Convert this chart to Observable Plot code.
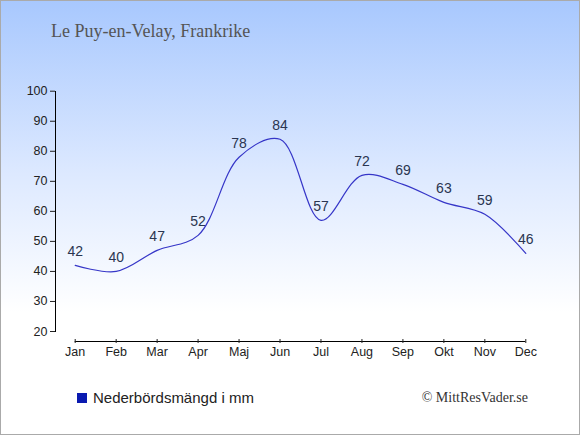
<!DOCTYPE html>
<html>
<head>
<meta charset="utf-8">
<script src="https://cdn.jsdelivr.net/npm/d3@7"></script>
<script src="https://cdn.jsdelivr.net/npm/@observablehq/plot@0.6"></script>
<style>
  html, body { margin: 0; padding: 0; }
  #wrap {
    position: relative; width: 580px; height: 435px; box-sizing: border-box;
    border: 1px solid #aaaaaa;
    background: linear-gradient(to bottom, #a8c8fe 0%, #dde9ff 40%, #ffffff 72%, #ffffff 100%);
    overflow: hidden;
  }
  #chart { position: absolute; left: -1px; top: -1px; width: 580px; height: 435px; }
  #chart svg { max-width: none !important; width: 580px; height: 435px; }
  #title {
    position: absolute; left: 50px; top: 20px;
    font-family: "Liberation Serif", serif; font-size: 18px; color: #555;
  }
  #legend {
    position: absolute; left: 76px; top: 388px;
    font-family: "Liberation Sans", Arial, sans-serif; font-size: 15px; color: #222;
    display: flex; align-items: center;
  }
  #legend .sw { width: 10px; height: 10px; background: #0a1ab0; margin-right: 6px; }
  #credit {
    position: absolute; right: 51px; top: 389px;
    font-family: "Liberation Serif", serif; font-size: 14px; color: #333;
  }
</style>
</head>
<body>
<div id="wrap">
  <div id="chart"></div>
  <div id="title">Le Puy-en-Velay, Frankrike</div>
  <div id="legend"><span class="sw"></span><span>Nederbördsmängd i mm</span></div>
  <div id="credit">© MittResVader.se</div>
</div>
<script>
const months = ["Jan","Feb","Mar","Apr","Maj","Jun","Jul","Aug","Sep","Okt","Nov","Dec"];
const precipitation = [42,40,47,52,78,84,57,72,69,63,59,46];
const yTicks = [20,30,40,50,60,70,80,90,100];

const data = months.map((m, i) => ({index: i, month: m, value: precipitation[i]}));
const monthIndex = months.map((m, i) => i);
const axisLine = [{y: 20, from: 0, to: months.length - 1}];

const chart = Plot.plot({
  width: 580, height: 435,
  marginLeft: 55, marginTop: 91, marginBottom: 104, marginRight: 54,
  style: {background: "transparent", fontFamily: "Liberation Sans, Arial, sans-serif", fontSize: "12.5px", color: "#222"},
  x: {type: "linear", domain: [0, months.length - 1], range: [74.7, 525.3]},
  y: {domain: [20, 100], range: [331, 90.7]},
  marks: [
    Plot.frame({anchor: "left", stroke: "#000"}),
    Plot.axisY({ticks: yTicks, tickSize: 5, tickPadding: 3, fontSize: 12.5, label: null}),
    Plot.ruleY(axisLine, {y: "y", x1: "from", x2: "to", dy: 10, stroke: "#000"}),
    Plot.axisX({ticks: monthIndex, tickFormat: i => months[i], tickSize: 4, dy: 8, tickPadding: 4, fontSize: 12.5, label: null}),
    Plot.line(data, {x: "index", y: "value", curve: "catmull-rom", stroke: "#3636c8", strokeWidth: 1.2}),
    Plot.text(data, {x: "index", y: "value", text: d => String(d.value), dy: -14, fontSize: 14, fill: "#2a3550"})
  ]
});
document.getElementById("chart").appendChild(chart);
</script>
</body>
</html>
